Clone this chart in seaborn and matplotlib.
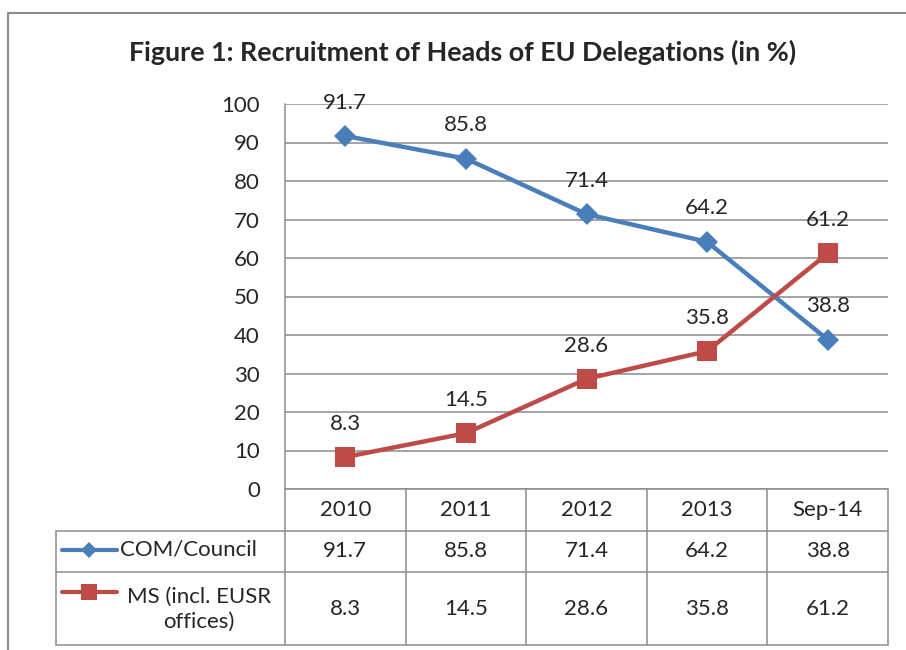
import numpy as np
import pandas as pd
import matplotlib.pyplot as plt
from matplotlib.lines import Line2D
import seaborn as sns

# data
years = ['2010', '2011', '2012', '2013', 'Sep-14']
com_council = [91.7, 85.8, 71.4, 64.2, 38.8]
ms_eusr = [8.3, 14.5, 28.6, 35.8, 61.2]
series_names = ['COM/Council', 'MS (incl. EUSR\noffices)']
y_ticks = list(range(0, 101, 10))
title = 'Figure 1: Recruitment of Heads of EU Delegations (in %)'

df = pd.DataFrame({
    'pos': list(range(len(years))) * 2,
    'value': com_council + ms_eusr,
    'series': [series_names[0]] * len(years) + [series_names[1]] * len(years),
})

sns.set_theme(style='white')
plt.rcParams['font.family'] = ['Lato', 'DejaVu Sans']

blue = '#4A7EBB'
red = '#BE4B48'
gray = '#8C8C8C'
W, H = 906, 650
fs = 16

fig = plt.figure(figsize=(9.06, 6.5), dpi=100)

# outer frame of the chart
fig.add_artist(Line2D([8 / W, 1], [1 - 13 / H, 1 - 13 / H], color=gray, lw=1.5))
fig.add_artist(Line2D([8 / W, 8 / W], [0, 1 - 13 / H], color=gray, lw=1.5))

fig.text(463 / W, 1 - 52 / H, title, ha='center', va='center',
         fontsize=19.4, fontweight='bold')

# =============================================================================
# line chart
# =============================================================================
ax = fig.add_axes([285 / W, 1 - 489 / H, (888 - 285) / W, 385 / H])

styles = {series_names[0]: ('D', 11, blue), series_names[1]: ('s', 14.5, red)}
for name, (mk, ms, col) in styles.items():
    sub = df[df['series'] == name]
    sns.lineplot(data=sub, x='pos', y='value', color=col, marker=mk,
                 markersize=ms, markeredgewidth=0, lw=3.2, ax=ax, legend=False)
    for x, v in zip(sub['pos'], sub['value']):
        ax.annotate(f'{v}', (x, v), xytext=(0, 24), textcoords='offset points',
                    ha='center', va='center', fontsize=fs)

ax.set_xlim(-0.5, len(years) - 0.5)
ax.set_ylim(0, 100)
ax.set_yticks(y_ticks)
ax.set_xticks([])
ax.set_xlabel('')
ax.set_ylabel('')
ax.tick_params(axis='y', length=0, pad=18, labelsize=fs)
ax.grid(axis='y', color=gray, lw=1.1)
for s in ['top', 'right', 'bottom']:
    ax.spines[s].set_visible(False)
ax.spines['left'].set_color(gray)
ax.spines['left'].set_linewidth(1.1)

# =============================================================================
# data table
# =============================================================================
tab = fig.add_axes([56 / W, 1 - 645 / H, (888 - 56) / W, (645 - 489) / H])
unit = (888 - 285) / len(years)
left = -0.5 - (285 - 56) / unit
tab.set_xlim(left, len(years) - 0.5)
tab.set_ylim(0, 156)
tab.axis('off')


def px2x(px):
    return -0.5 - (285 - px) / unit


kw = dict(color=gray, lw=1.1, clip_on=False)
tab.plot([left, len(years) - 0.5], [0, 0], **kw)
tab.plot([left, len(years) - 0.5], [73, 73], **kw)
tab.plot([left, len(years) - 0.5], [114, 114], **kw)
tab.plot([-0.5, len(years) - 0.5], [156, 156], **kw)
tab.plot([left, left], [0, 114], **kw)
for i in range(len(years) + 1):
    tab.plot([i - 0.5, i - 0.5], [0, 156], **kw)

for i, yr in enumerate(years):
    tab.text(i, 135, yr, ha='center', va='center', fontsize=fs)
    tab.text(i, 94, f'{com_council[i]}', ha='center', va='center', fontsize=fs)
    tab.text(i, 36, f'{ms_eusr[i]}', ha='center', va='center', fontsize=fs)

# legend keys inside the table
tab.plot([px2x(62), px2x(117)], [95, 95], color=blue, lw=3, solid_capstyle='round')
tab.plot([px2x(89)], [95], marker='D', color=blue, markersize=8.5, markeredgewidth=0)
tab.plot([px2x(62), px2x(117)], [53, 53], color=red, lw=3, solid_capstyle='round')
tab.plot([px2x(89)], [53], marker='s', color=red, markersize=11, markeredgewidth=0)
tab.text(px2x(120), 95, series_names[0], ha='left', va='center', fontsize=fs)
tab.text(px2x(199), 36, series_names[1], ha='center', va='center', fontsize=fs,
         linespacing=1.3, multialignment='center')

fig.savefig('out.png', dpi=100)
